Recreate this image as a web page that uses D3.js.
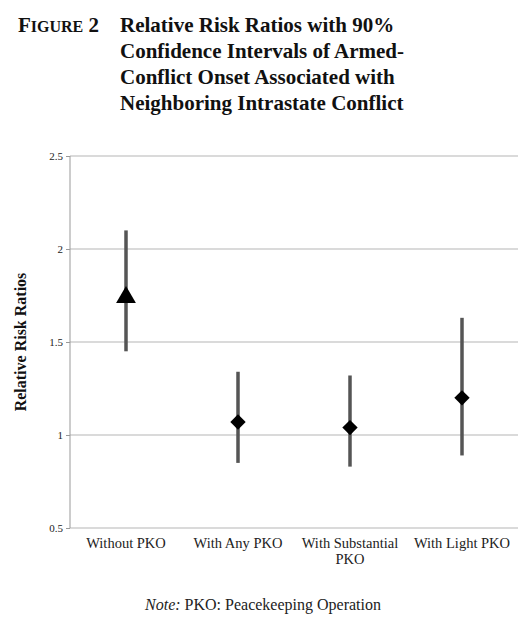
<!DOCTYPE html>
<html><head><meta charset="utf-8">
<script src="https://cdn.jsdelivr.net/npm/d3@7"></script>
<style>
body{margin:0;background:#fff;}
</style></head>
<body>
<script>
var categories = ['Without PKO', 'With Any PKO', 'With Substantial PKO', 'With Light PKO'];
var estimates = [1.74, 1.07, 1.04, 1.20];
var lowerBounds = [1.45, 0.85, 0.83, 0.89];
var upperBounds = [2.10, 1.34, 1.32, 1.63];
var markers = ['triangle', 'diamond', 'diamond', 'diamond'];
var yTicks = [0.5, 1, 1.5, 2, 2.5];

var svg = d3.select('body').append('svg')
  .attr('width', 526).attr('height', 628);

var serif = '"Liberation Serif", "DejaVu Serif", serif';

// title block
var title = svg.append('g').attr('font-family', serif).attr('fill', '#111');
var t0 = title.append('text').attr('x', 18).attr('y', 32).attr('font-size', 21).attr('font-weight', 'bold');
t0.append('tspan').text('F');
t0.append('tspan').attr('font-size', 16).text('IGURE');
t0.append('tspan').text(' 2');
['Relative Risk Ratios with 90%', 'Confidence Intervals of Armed-',
 'Conflict Onset Associated with', 'Neighboring Intrastate Conflict']
  .forEach(function(s, i) {
    title.append('text').attr('x', 120).attr('y', 32 + i * 26)
      .attr('font-size', 21).attr('font-weight', 'bold').text(s);
  });

var x = d3.scaleBand().domain(categories).range([70, 518]);
var y = d3.scaleLinear().domain([0.5, 2.5]).range([528, 156]);

// gridlines
svg.append('g').selectAll('line').data(yTicks).join('line')
  .attr('x1', 70).attr('x2', 518)
  .attr('y1', d => y(d)).attr('y2', d => y(d))
  .attr('stroke', '#b5b5b5').attr('stroke-width', 1);

svg.append('line').attr('x1', 70).attr('x2', 70)
  .attr('y1', y(2.5)).attr('y2', y(0.5)).attr('stroke', '#999');

var yAxis = d3.axisLeft(y).tickValues(yTicks).tickSize(4).tickFormat(d => d);
var ga = svg.append('g').attr('transform', 'translate(70,0)').call(yAxis);
ga.select('.domain').remove();
ga.selectAll('line').attr('stroke', '#999');
ga.selectAll('text').attr('font-family', serif).attr('font-size', 11).attr('fill', '#222');

var xAxis = d3.axisBottom(x).tickSize(0);
var gx = svg.append('g').attr('transform', 'translate(0,528)').call(xAxis);
gx.select('.domain').remove();
gx.selectAll('text').attr('font-family', serif).attr('font-size', 14.5).attr('fill', '#222')
  .attr('dy', '1.2em')
  .each(function(d) {
    if (d === 'With Substantial PKO') {
      var el = d3.select(this).text(null);
      el.append('tspan').attr('x', 0).text('With Substantial');
      el.append('tspan').attr('x', 0).attr('dy', '1.1em').text('PKO');
    }
  });

svg.append('text').attr('transform', 'translate(26,' + y(1.5) + ') rotate(-90)')
  .attr('text-anchor', 'middle').attr('font-family', serif)
  .attr('font-size', 16).attr('font-weight', 'bold').attr('fill', '#111')
  .text('Relative Risk Ratios');

var cx = d => x(d) + x.bandwidth() / 2;
var g = svg.append('g');
g.selectAll('line').data(categories).join('line')
  .attr('x1', cx).attr('x2', cx)
  .attr('y1', (d, i) => y(lowerBounds[i])).attr('y2', (d, i) => y(upperBounds[i]))
  .attr('stroke', '#555').attr('stroke-width', 3.5);

g.selectAll('path').data(categories).join('path')
  .attr('d', (d, i) => d3.symbol()
    .type(markers[i] === 'triangle' ? d3.symbolTriangle : d3.symbolDiamond2)
    .size(markers[i] === 'triangle' ? 170 : 150)())
  .attr('transform', (d, i) => 'translate(' + cx(d) + ',' + y(estimates[i]) + ')')
  .attr('fill', '#000');

var note = svg.append('text').attr('x', 263).attr('y', 610).attr('text-anchor', 'middle')
  .attr('font-family', serif).attr('font-size', 16).attr('fill', '#222');
note.append('tspan').attr('font-style', 'italic').text('Note:');
note.append('tspan').text(' PKO: Peacekeeping Operation');
</script>
</body></html>
